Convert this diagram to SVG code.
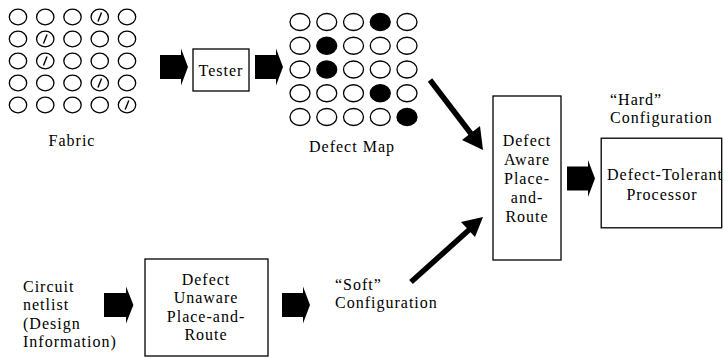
<svg xmlns="http://www.w3.org/2000/svg" width="724" height="359" viewBox="0 0 724 359">
  <style>
    .mid { text-anchor: middle; }
    .box { fill: #fff; stroke: #000; stroke-width: 1.3; }
    .cell { fill: #fff; stroke: #000; stroke-width: 1.3; }
    .bad { fill: #000; stroke: #000; stroke-width: 1.3; }
    .slash { stroke: #000; stroke-width: 1.4; }
    .shaft { stroke: #000; stroke-width: 5.5; fill: none; }
  </style>
  <defs>
    <!-- chunky block arrow, origin at the tail centre -->
    <path id="blk" d="M0,-12 H21 V-18.5 L28,0 L21,18.5 V12 H0 Z" fill="#000"/>
    <ellipse id="fc" rx="8.7" ry="7.8" class="cell"/>
    <g id="fs">
      <ellipse rx="8.7" ry="7.8" class="cell"/>
      <line x1="-1.8" y1="4.5" x2="1.8" y2="-4.5" class="slash"/>
    </g>
    <ellipse id="mc" rx="10" ry="8.5" class="cell"/>
    <ellipse id="md" rx="10" ry="8.5" class="bad"/>
  </defs>

  <g font-family="Liberation Serif" font-size="16" letter-spacing="1" fill="#000">
  <!-- fabric array -->
  <g id="fabric">
    <g transform="translate(18,17)">
      <use href="#fc" x="0" y="0"/><use href="#fc" x="27.25" y="0"/><use href="#fc" x="54.5" y="0"/><use href="#fs" x="81.75" y="0"/><use href="#fc" x="109" y="0"/>
      <use href="#fc" x="0" y="22"/><use href="#fs" x="27.25" y="22"/><use href="#fc" x="54.5" y="22"/><use href="#fc" x="81.75" y="22"/><use href="#fc" x="109" y="22"/>
      <use href="#fc" x="0" y="44"/><use href="#fs" x="27.25" y="44"/><use href="#fc" x="54.5" y="44"/><use href="#fc" x="81.75" y="44"/><use href="#fc" x="109" y="44"/>
      <use href="#fc" x="0" y="66"/><use href="#fc" x="27.25" y="66"/><use href="#fc" x="54.5" y="66"/><use href="#fs" x="81.75" y="66"/><use href="#fc" x="109" y="66"/>
      <use href="#fc" x="0" y="88"/><use href="#fc" x="27.25" y="88"/><use href="#fc" x="54.5" y="88"/><use href="#fc" x="81.75" y="88"/><use href="#fs" x="109" y="88"/>
    </g>
    <text class="mid" x="72" y="146">Fabric</text>
  </g>

  <g id="tester">
    <rect class="box" x="193" y="49" width="56" height="42" stroke-width="1"/>
    <text class="mid" x="221" y="76">Tester</text>
  </g>

  <!-- defect map -->
  <g id="defect-map">
    <g transform="translate(300,22)">
      <use href="#mc" x="0" y="0"/><use href="#mc" x="26.75" y="0"/><use href="#mc" x="53.5" y="0"/><use href="#md" x="80.25" y="0"/><use href="#mc" x="107" y="0"/>
      <use href="#mc" x="0" y="23.75"/><use href="#md" x="26.75" y="23.75"/><use href="#mc" x="53.5" y="23.75"/><use href="#mc" x="80.25" y="23.75"/><use href="#mc" x="107" y="23.75"/>
      <use href="#mc" x="0" y="47.5"/><use href="#md" x="26.75" y="47.5"/><use href="#mc" x="53.5" y="47.5"/><use href="#mc" x="80.25" y="47.5"/><use href="#mc" x="107" y="47.5"/>
      <use href="#mc" x="0" y="71.25"/><use href="#mc" x="26.75" y="71.25"/><use href="#mc" x="53.5" y="71.25"/><use href="#md" x="80.25" y="71.25"/><use href="#mc" x="107" y="71.25"/>
      <use href="#mc" x="0" y="95"/><use href="#mc" x="26.75" y="95"/><use href="#mc" x="53.5" y="95"/><use href="#mc" x="80.25" y="95"/><use href="#md" x="107" y="95"/>
    </g>
    <text class="mid" x="352" y="152">Defect Map</text>
  </g>

  <g id="aware-par">
    <rect class="box" x="493" y="96" width="68" height="164"/>
    <text class="mid" x="527" y="146">Defect</text>
    <text class="mid" x="527" y="165">Aware</text>
    <text class="mid" x="527" y="184">Place-</text>
    <text class="mid" x="527" y="203">and-</text>
    <text class="mid" x="527" y="222">Route</text>
  </g>

  <g id="hard-config">
    <text x="610" y="105">“Hard”</text>
    <text x="610" y="123">Configuration</text>
  </g>

  <g id="processor">
    <rect class="box" x="601.2" y="138.2" width="120.5" height="89.6" stroke-width="2.5"/>
    <text class="mid" x="665" y="180">Defect-Tolerant</text>
    <text class="mid" x="662" y="200">Processor</text>
  </g>

  <g id="netlist">
    <text x="23" y="292">Circuit</text>
    <text x="23" y="310">netlist</text>
    <text x="23" y="329">(Design</text>
    <text x="23" y="347">Information)</text>
  </g>

  <g id="unaware-par">
    <rect class="box" x="145" y="259" width="123" height="97"/>
    <text class="mid" x="206" y="285">Defect</text>
    <text class="mid" x="206" y="303">Unaware</text>
    <text class="mid" x="206" y="322">Place-and-</text>
    <text class="mid" x="206" y="340">Route</text>
  </g>

  <g id="soft-config">
    <text x="335" y="290">“Soft”</text>
    <text x="335" y="308">Configuration</text>
  </g>
  </g>

  <!-- connectors -->
  <g id="connectors">
    <use href="#blk" transform="translate(160,67)"/>
    <use href="#blk" transform="translate(255,67)"/>
    <use href="#blk" transform="translate(567,178.5)"/>
    <use href="#blk" transform="translate(104,305) scale(1.05,1)"/>
    <use href="#blk" transform="translate(282,305)"/>
    <line class="shaft" x1="430" y1="80" x2="472" y2="135"/>
    <polygon points="483,150 462,140 480,126"/>
    <line class="shaft" x1="411" y1="282" x2="470" y2="229"/>
    <polygon points="483,217 475,237 461,222"/>
  </g>
</svg>
